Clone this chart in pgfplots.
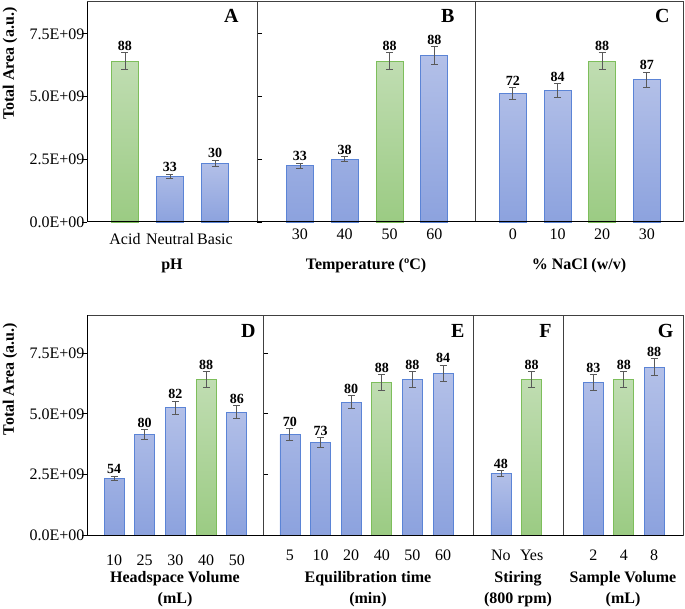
\documentclass[border=0pt]{standalone}
\usepackage{fontspec}
\setmainfont{Liberation Serif}
\usepackage{pgfplots}
\usepackage{pgfplotstable}
\pgfplotsset{compat=1.18}

\definecolor{bluetop}{HTML}{B3C0E8}
\definecolor{bluebot}{HTML}{8CA2DE}
\definecolor{blueedge}{HTML}{5B84D6}
\definecolor{greentop}{HTML}{C0DDB2}
\definecolor{greenbot}{HTML}{9BCB83}
\definecolor{greenedge}{HTML}{7DBE5B}
\definecolor{errgray}{HTML}{595959}
\definecolor{framegray}{HTML}{404040}

\newcommand\fs[1]{\fontsize{#1}{21}\selectfont}

% values in units of 1E+09, e = error bar half width, l = label above bar
\pgfplotstableread{
x y e l
1 1.82 0.09 33
2 2.35 0.12 30
}\tAb
\pgfplotstableread{
x y e l
0 6.41 0.33 88
}\tAg
\pgfplotstableread{
x y e l
0 2.25 0.10 33
1 2.50 0.10 38
3 6.65 0.35 88
}\tBb
\pgfplotstableread{
x y e l
2 6.41 0.33 88
}\tBg
\pgfplotstableread{
x y e l
0 5.12 0.25 72
1 5.25 0.27 84
3 5.68 0.30 87
}\tCb
\pgfplotstableread{
x y e l
2 6.41 0.33 88
}\tCg
\pgfplotstableread{
x y e l
0 2.34 0.09 54
1 4.15 0.20 80
2 5.26 0.27 82
4 5.07 0.27 86
}\tDb
\pgfplotstableread{
x y e l
3 6.41 0.32 88
}\tDg
\pgfplotstableread{
x y e l
0 4.15 0.23 70
1 3.82 0.20 73
2 5.48 0.26 80
4 6.41 0.33 88
5 6.67 0.33 84
}\tEb
\pgfplotstableread{
x y e l
3 6.30 0.32 88
}\tEg
\pgfplotstableread{
x y e l
0 2.54 0.12 48
}\tFb
\pgfplotstableread{
x y e l
1 6.41 0.33 88
}\tFg
\pgfplotstableread{
x y e l
0 6.30 0.32 83
2 6.93 0.35 88
}\tGb
\pgfplotstableread{
x y e l
1 6.41 0.33 88
}\tGg

\pgfplotsset{
  panel/.style={scale only axis, height=220pt, ymin=0, clip=false,
    axis line style={draw=framegray, line width=1pt},
    xtick style={draw=none}, ytick=\empty,
    xlabel style={font=\bfseries\fs{16}, at={(axis description cs:0.5,0)},
      anchor=north, align=center}},
  toprow/.style={panel, ymax=8.77, bar width=27pt,
    xticklabel style={font=\fs{16}, yshift=-3pt},
    xlabel style={yshift=-33pt}},
  botrow/.style={panel, ymax=9.06, bar width=20pt,
    xticklabel style={font=\fs{16}, yshift=-11pt},
    xlabel style={yshift=-33pt}},
  first/.style={ytick={0,2.5,5,7.5},
    yticklabels={0.0E+00,2.5E+09,5.0E+09,7.5E+09},
    ytick style={draw=black, line width=0.8pt}, tick align=outside,
    major tick length=5pt, yticklabel style={font=\fs{16}, xshift=6pt}},
  errbars/.style={error bars/.cd, y dir=both, y explicit,
    error bar style={draw=errgray, line width=0.9pt},
    error mark options={rotate=90, draw=errgray, line width=0.9pt, mark size=3.5pt}},
  bluebar/.style={ybar, bar shift=0pt, draw=blueedge, line width=0.8pt,
    top color=bluetop, bottom color=bluebot, errbars},
  greenbar/.style={ybar, bar shift=0pt, draw=greenedge, line width=0.8pt,
    top color=greentop, bottom color=greenbot, errbars},
  lbl/.style={draw=none, mark=none, nodes near coords,
    point meta=explicit symbolic,
    nodes near coords style={anchor=south, font=\bfseries\fs{14},
      text=black, inner sep=2pt}},
}

\newcommand\bars[2]{%
  \addplot[bluebar] table[y error=e] {#1};
  \addplot[greenbar] table[y error=e] {#2};
  \addplot[lbl] table[y expr=\thisrow{y}+\thisrow{e}, meta=l] {#1};
  \addplot[lbl] table[y expr=\thisrow{y}+\thisrow{e}, meta=l] {#2};
}
\newcommand\letter[3]{%
  \node[anchor=base east, font=\bfseries\fs{20}]
    at ([xshift=-#2pt, yshift=-#3pt]rel axis cs:1,1) {#1};}
\newcommand\xaxisline{\draw[black, line width=1pt] (rel axis cs:0,0) -- (rel axis cs:1,0);}
\newcommand\yaxisline{\draw[black, line width=1pt] (rel axis cs:0,0) -- (rel axis cs:0,1);}

\begin{document}
\begin{tikzpicture}
\useasboundingbox (0,0) rectangle (685pt,608pt);

% top row
\begin{axis}[toprow, first, at={(87pt,386pt)}, anchor=south west, width=170pt,
  xmin=-0.844, xmax=2.933, xtick={0,1,2}, xticklabels={Acid,Neutral,Basic},
  xlabel={pH}]
\bars{\tAb}{\tAg}
\xaxisline \yaxisline
\letter{A}{15}{21}
\node[rotate=90, font=\bfseries\fs{16}] at ([xshift=-77pt]rel axis cs:0,0.72) {Total Area (a.u.)};
\end{axis}

\begin{axis}[toprow, at={(257pt,386pt)}, anchor=south west, width=218pt,
  xmin=-0.96, xmax=3.91, xtick={0,1,2,3}, xticklabels={30,40,50,60},
  xlabel={Temperature (ºC)}]
\bars{\tBb}{\tBg}
\xaxisline
\letter{B}{17}{21}
\end{axis}

\begin{axis}[toprow, at={(475pt,386pt)}, anchor=south west, width=208pt,
  xmin=-0.85, xmax=3.81, xtick={0,1,2,3}, xticklabels={0,10,20,30},
  xlabel={\% NaCl (w/v)}]
\bars{\tCb}{\tCg}
\xaxisline
\letter{C}{10}{21}
\end{axis}

% bottom row
\begin{axis}[botrow, first, at={(87pt,72.7pt)}, anchor=south west, width=176pt,
  xmin=-0.88, xmax=4.85, xtick={0,1,2,3,4}, xticklabels={10,25,30,40,50},
  xlabel={Headspace Volume\\(mL)}]
\bars{\tDb}{\tDg}
\xaxisline \yaxisline
\letter{D}{4}{22}
\node[rotate=90, font=\bfseries\fs{16}] at ([xshift=-77pt]rel axis cs:0,0.71) {Total Area (a.u.)};
\end{axis}

\begin{axis}[botrow, at={(263pt,72.7pt)}, anchor=south west, width=210pt,
  xmin=-0.88, xmax=5.98, xtick={0,1,2,3,4,5}, xticklabels={5,10,20,40,50,60},
  xlabel={Equilibration time\\(min)}]
\bars{\tEb}{\tEg}
\xaxisline
\letter{E}{5}{22}
\end{axis}

\begin{axis}[botrow, at={(473pt,72.7pt)}, anchor=south west, width=90pt,
  xmin=-0.91, xmax=2.02, xtick={0,1}, xticklabels={No,Yes},
  xlabel={Stiring\\(800 rpm)}]
\bars{\tFb}{\tFg}
\xaxisline
\letter{F}{8}{22}
\end{axis}

\begin{axis}[botrow, at={(563pt,72.7pt)}, anchor=south west, width=120pt,
  xmin=-1.0, xmax=2.95, xtick={0,1,2}, xticklabels={2,4,8},
  xlabel={Sample Volume\\(mL)}]
\bars{\tGb}{\tGg}
\xaxisline
\letter{G}{6}{22}
\end{axis}
\end{tikzpicture}
\end{document}
